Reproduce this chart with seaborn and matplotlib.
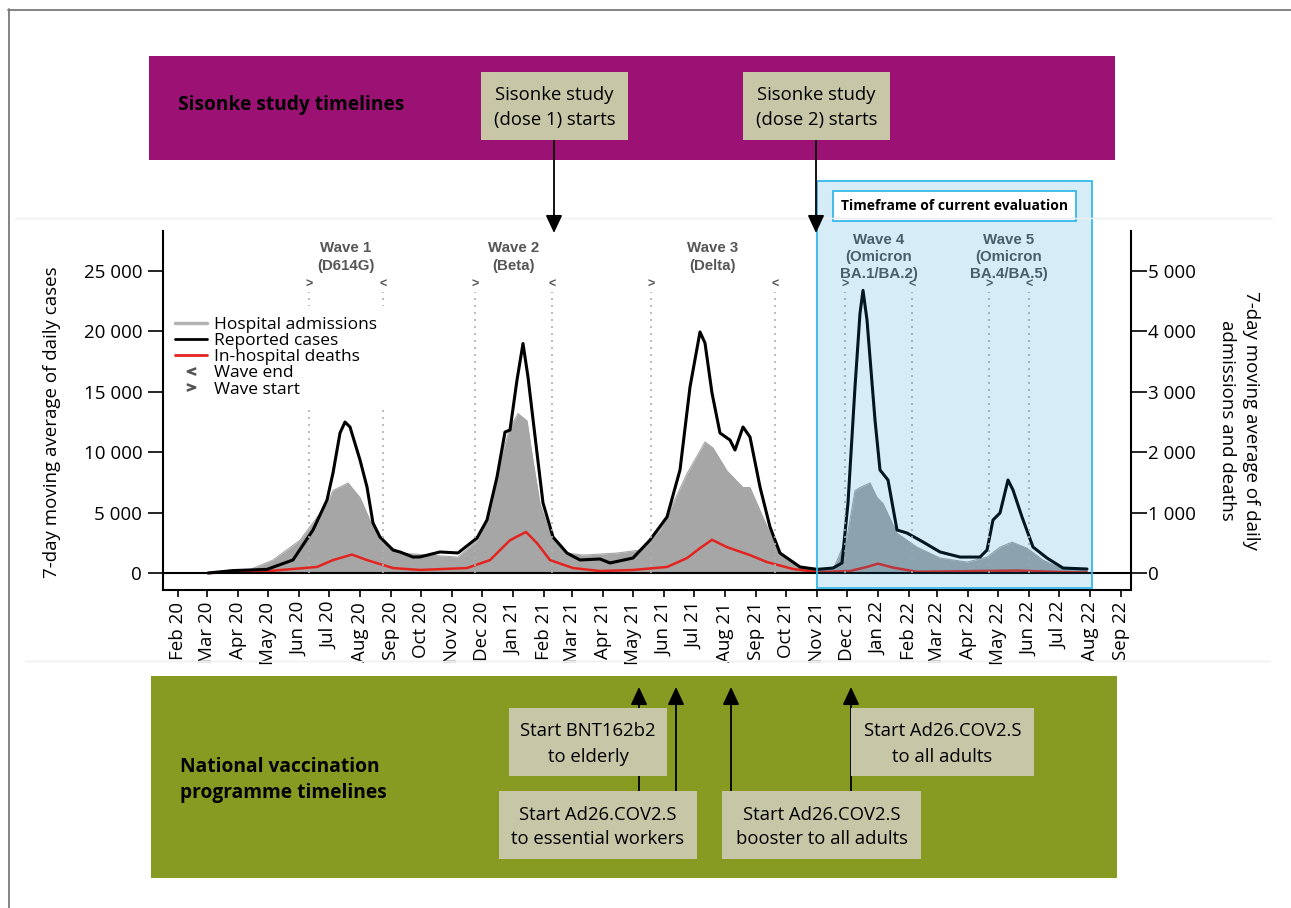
import matplotlib.pyplot as plt
import matplotlib.dates as mdates
import matplotlib.patches as mpatches
import matplotlib.ticker as mticker
import matplotlib.transforms as mtransforms
from matplotlib.lines import Line2D
import pandas as pd
import seaborn as sns

sns.set_theme(style='ticks')
plt.rcParams['font.family'] = ['Open Sans', 'DejaVu Sans']
plt.rcParams['font.size'] = 13.5
plt.rcParams['text.color'] = 'black'
plt.rcParams['axes.labelcolor'] = 'black'

# ---- data ----
case_dates = ['2020-03-02', '2020-03-27', '2020-04-30', '2020-05-26', '2020-06-15', '2020-06-29',
              '2020-07-05', '2020-07-12', '2020-07-17', '2020-07-22', '2020-08-01', '2020-08-08',
              '2020-08-14', '2020-08-21', '2020-09-03', '2020-09-10', '2020-09-23', '2020-09-30',
              '2020-10-20', '2020-11-07', '2020-11-26', '2020-12-06', '2020-12-16', '2020-12-24',
              '2020-12-29', '2021-01-05', '2021-01-11', '2021-01-16', '2021-01-25', '2021-01-31',
              '2021-02-10', '2021-02-24', '2021-03-09', '2021-03-29', '2021-04-08', '2021-05-01',
              '2021-05-18', '2021-06-04', '2021-06-17', '2021-06-27', '2021-07-07', '2021-07-12',
              '2021-07-19', '2021-07-27', '2021-08-06', '2021-08-11', '2021-08-19', '2021-08-26',
              '2021-09-05', '2021-09-15', '2021-09-25', '2021-10-15', '2021-11-01', '2021-11-17',
              '2021-11-26', '2021-12-02', '2021-12-09', '2021-12-14', '2021-12-17', '2021-12-21',
              '2021-12-25', '2021-12-29', '2022-01-03', '2022-01-11', '2022-01-20', '2022-01-30',
              '2022-02-15', '2022-03-04', '2022-03-24', '2022-04-13', '2022-04-20', '2022-04-26',
              '2022-05-03', '2022-05-11', '2022-05-16', '2022-05-25', '2022-06-05', '2022-06-19',
              '2022-07-05', '2022-07-29']
case_values = [0, 200, 300, 1080, 3560, 6040,
               8280, 11590, 12500, 12090, 9360, 7120,
               4140, 2980, 1900, 1740, 1320, 1330,
               1740, 1660, 2900, 4390, 7950, 11670,
               11840, 15980, 19000, 16230, 9940, 5800,
               2980, 1650, 1080, 1160, 830, 1240,
               2730, 4640, 8530, 15400, 19960, 19040,
               14900, 11590, 11010, 10180, 12090, 11260,
               7120, 3810, 1650, 500, 300, 410,
               830, 5800, 15400, 21500, 23400, 20950,
               16800, 12670, 8530, 7700, 3560, 3310,
               2570, 1740, 1320, 1320, 1900, 4390,
               4970, 7700, 6870, 4640, 2150, 1240,
               410, 330]

adm_dates = ['2020-03-03', '2020-04-12', '2020-05-06', '2020-06-02', '2020-06-22', '2020-07-02',
             '2020-07-05', '2020-07-20', '2020-08-01', '2020-08-11', '2020-08-21', '2020-09-10',
             '2020-11-07', '2020-11-26', '2020-12-09', '2020-12-19', '2020-12-29', '2021-01-06',
             '2021-01-15', '2021-01-21', '2021-01-28', '2021-02-07', '2021-02-24', '2021-03-12',
             '2021-04-15', '2021-05-08', '2021-05-28', '2021-06-10', '2021-06-24', '2021-07-07',
             '2021-07-12', '2021-07-20', '2021-08-03', '2021-08-19', '2021-08-26', '2021-09-05',
             '2021-09-15', '2021-09-28', '2021-10-15', '2021-11-17', '2021-12-01', '2021-12-09',
             '2021-12-14', '2021-12-24', '2021-12-31', '2022-01-06', '2022-01-20', '2022-02-09',
             '2022-03-04', '2022-03-31', '2022-04-20', '2022-05-03', '2022-05-15', '2022-05-30',
             '2022-06-15', '2022-07-02', '2022-07-29']
adm_values = [0, 50, 214, 543, 987, 1250,
              1365, 1490, 1250, 872, 543, 330,
              263, 543, 987, 1860, 2400, 2640,
              2520, 1860, 1150, 658, 330, 296,
              330, 380, 707, 1150, 1645, 2020,
              2170, 2070, 1690, 1415, 1415, 1036,
              658, 263, 100, 50, 592, 1365,
              1415, 1490, 1250, 1150, 658, 428,
              247, 181, 263, 428, 510, 411,
              214, 82, 50]

death_dates = ['2020-03-03', '2020-04-30', '2020-06-19', '2020-07-05', '2020-07-24', '2020-08-08',
               '2020-09-03', '2020-09-30', '2020-11-16', '2020-12-09', '2020-12-29', '2021-01-14',
               '2021-01-25', '2021-02-07', '2021-03-02', '2021-03-29', '2021-05-01', '2021-06-04',
               '2021-06-24', '2021-07-07', '2021-07-19', '2021-08-03', '2021-08-26', '2021-09-12',
               '2021-10-08', '2021-11-01', '2021-12-04', '2021-12-21', '2022-01-01', '2022-01-16',
               '2022-02-09', '2022-05-20', '2022-07-05', '2022-07-29']
death_values = [0, 30, 100, 214, 305, 214,
                82, 50, 82, 214, 543, 680,
                494, 214, 82, 33, 50, 100,
                247, 411, 550, 428, 296, 181,
                66, 16, 33, 100, 155, 90,
                20, 40, 15, 10]

wave_labels = ['Wave 1\n(D614G)', 'Wave 2\n(Beta)', 'Wave 3\n(Delta)',
               'Wave 4\n(Omicron\nBA.1/BA.2)', 'Wave 5\n(Omicron\nBA.4/BA.5)']
wave_starts = ['2020-06-11', '2020-11-24', '2021-05-19', '2021-11-29', '2022-04-22']
wave_ends = ['2020-08-24', '2021-02-09', '2021-09-20', '2022-02-04', '2022-06-01']

sisonke_labels = ['Sisonke study\n(dose 1) starts', 'Sisonke study\n(dose 2) starts']
sisonke_dates = ['2021-02-11', '2021-10-31']

vacc_labels = ['Start BNT162b2\nto elderly', 'Start Ad26.COV2.S\nto essential workers',
               'Start Ad26.COV2.S\nbooster to all adults', 'Start Ad26.COV2.S\nto all adults']
vacc_dates = ['2021-05-07', '2021-06-13', '2021-08-07', '2021-12-05']

timeframe = ['2021-11-01', '2022-08-03']

df_cases = pd.DataFrame({'date': pd.to_datetime(case_dates), 'cases': case_values})
df_adm = pd.DataFrame({'date': pd.to_datetime(adm_dates), 'admissions': adm_values})
df_deaths = pd.DataFrame({'date': pd.to_datetime(death_dates), 'deaths': death_values})

# ---- layout helpers (pixels of the 1291x908 canvas) ----
W, H = 1291, 908
def fx(px):
    return px / W
def fy(py):
    return 1 - py / H

fig = plt.figure(figsize=(W / 100, H / 100), dpi=100)
ax = fig.add_axes([fx(163), fy(590), fx(1131) - fx(163), fy(231) - fy(590)])
ax2 = ax.twinx()
ax.set_zorder(ax2.get_zorder() + 1)
ax.patch.set_visible(False)

# right axis: admissions + deaths
ax2.fill_between(df_adm['date'], df_adm['admissions'], 0, color='#a6a6a6', lw=0)
sns.lineplot(data=df_adm, x='date', y='admissions', ax=ax2, color='#a6a6a6', lw=0.8)
sns.lineplot(data=df_deaths, x='date', y='deaths', ax=ax2, color='#e3241e', lw=1.8)

# left axis: cases
ax.axhline(0, color='black', lw=1.5)
sns.lineplot(data=df_cases, x='date', y='cases', ax=ax, color='black', lw=2.2)

ymin, ymax = -1408, 28318
ax.set_ylim(ymin, ymax)
ax2.set_ylim(ymin / 5, ymax / 5)
ax.set_xlim(pd.Timestamp('2020-01-17'), pd.Timestamp('2022-09-11'))
ax.set(xlabel='', ylabel='')
ax2.set(xlabel='', ylabel='')

fmt = mticker.FuncFormatter(lambda v, p: f'{int(v):,}'.replace(',', ' '))
ax.set_yticks(range(0, 25001, 5000))
ax2.set_yticks(range(0, 5001, 1000))
ax.yaxis.set_major_formatter(fmt)
ax2.yaxis.set_major_formatter(fmt)
ax.xaxis.set_major_locator(mdates.MonthLocator())
ax.xaxis.set_major_formatter(mdates.DateFormatter('%b %y'))

ax.tick_params(axis='y', length=11, width=1.2, pad=4, labelsize=13.5, colors='black')
ax2.tick_params(axis='y', length=11.5, width=1.2, pad=0.5, labelsize=13.5, colors='black')
ax.tick_params(axis='x', length=5, width=1.2, pad=3.5, labelsize=13.5, labelrotation=90, colors='black')

for s in ['top', 'right']:
    ax.spines[s].set_visible(False)
for s in ['top', 'left', 'bottom']:
    ax2.spines[s].set_visible(False)
for a in [ax, ax2]:
    for s in a.spines.values():
        s.set_color('black')
        s.set_linewidth(1.5)

# wave markers
xfrac = ax.get_xaxis_transform()
for lab, st, en in zip(wave_labels, wave_starts, wave_ends):
    st, en = pd.Timestamp(st), pd.Timestamp(en)
    ax.vlines([st, en], 0, 23300, colors='#b0b0b0', linestyles=(0, (1.2, 3)), lw=1.2)
    ax.text(st, 0.8496, '>', transform=xfrac, ha='center', va='center', fontsize=9,
            color='#555555', family='Liberation Sans', fontweight='bold')
    ax.text(en, 0.8496, '<', transform=xfrac, ha='center', va='center', fontsize=9,
            color='#555555', family='Liberation Sans', fontweight='bold')
    ax.text(st + (en - st) / 2, 0.9276, lab, transform=xfrac, ha='center', va='center',
            fontsize=10.8, color='#555555', family='Liberation Sans', fontweight='bold',
            linespacing=1.3)

# legend
handles = [Line2D([], [], color='#b3b3b3', lw=2.5),
           Line2D([], [], color='black', lw=2),
           Line2D([], [], color='#e3241e', lw=2),
           Line2D([], [], ls='none', marker='$<$', color='#555555', markersize=6),
           Line2D([], [], ls='none', marker='$>$', color='#555555', markersize=6)]
names = ['Hospital admissions', 'Reported cases', 'In-hospital deaths', 'Wave end', 'Wave start']
leg = ax.legend(handles, names, loc='upper left', bbox_to_anchor=(0.0017, 0.790), borderaxespad=0,
                fontsize=12.5, labelspacing=0.0, handlelength=1.85, handletextpad=0.4,
                borderpad=0.6, frameon=True, fancybox=False, framealpha=1)
leg.get_frame().set_facecolor('white')
leg.get_frame().set_edgecolor('none')

# timeframe of current evaluation
blend = mtransforms.blended_transform_factory(ax.transData, fig.transFigure)
t0 = mdates.date2num(pd.Timestamp(timeframe[0]))
t1 = mdates.date2num(pd.Timestamp(timeframe[1]))
ax.add_artist(mpatches.Rectangle((t0, fy(588)), t1 - t0, fy(181) - fy(588), transform=blend,
                                 fc='#0095d9', alpha=0.16, ec='none', clip_on=False, zorder=20))
ax.add_artist(mpatches.Rectangle((t0, fy(588)), t1 - t0, fy(181) - fy(588), transform=blend,
                                 fc='none', ec='#35b8ea', lw=1.3, clip_on=False, zorder=21))
ax.text((t0 + t1) / 2, fy(206), 'Timeframe of current evaluation', transform=blend,
        ha='center', va='center', fontsize=10, fontweight='bold', zorder=22,
        bbox=dict(boxstyle='square,pad=0.6', fc='white', ec='#35b8ea', lw=1.3))

# outer decoration
fig.add_artist(Line2D([fx(8.5), fx(8.5)], [fy(9), 0], transform=fig.transFigure, color='#7a7a7a', lw=1.3))
fig.add_artist(Line2D([fx(8), 1], [fy(9.5), fy(9.5)], transform=fig.transFigure, color='#7a7a7a', lw=1.3))
fig.add_artist(Line2D([fx(15), fx(1272)], [fy(218), fy(218)], transform=fig.transFigure, color='#efefef', lw=1))
fig.add_artist(Line2D([fx(25), fx(1270)], [fy(661), fy(661)], transform=fig.transFigure, color='#efefef', lw=1))

box_color = '#c7c7a7'
def band(x0, y0, x1, y1, color):
    fig.add_artist(mpatches.Rectangle((fx(x0), fy(y1)), fx(x1) - fx(x0), fy(y0) - fy(y1),
                                      transform=fig.transFigure, fc=color, ec='none', zorder=1))

def box(x0, y0, x1, y1, text):
    fig.add_artist(mpatches.Rectangle((fx(x0), fy(y1)), fx(x1) - fx(x0), fy(y0) - fy(y1),
                                      transform=fig.transFigure, fc=box_color, ec='none', zorder=3))
    fig.text(fx((x0 + x1) / 2), fy((y0 + y1) / 2 + 2), text, ha='center', va='center',
             fontsize=13.3, linespacing=1.5, zorder=4)

def arrow(date, ya, yb):
    xd = mdates.date2num(pd.Timestamp(date))
    fig.add_artist(mpatches.FancyArrowPatch((xd, fy(ya)), (xd, fy(yb)), transform=blend,
                                            arrowstyle='-|>,head_length=0.9,head_width=0.42',
                                            mutation_scale=12, color='black', lw=1.3,
                                            shrinkA=0, shrinkB=0, zorder=2))

# Sisonke band
band(149, 56, 1115, 160, '#9b1174')
fig.text(fx(178), fy(105), 'Sisonke study timelines', ha='left', va='center',
         fontsize=13.8, fontweight='bold', zorder=4)
for lab, d, (x0, x1) in zip(sisonke_labels, sisonke_dates, [(481, 628), (743, 890)]):
    box(x0, 72, x1, 140, lab)
    arrow(d, 140, 233)

# national vaccination band
band(151, 676, 1117, 878, '#879a22')
fig.text(fx(180), fy(780), 'National vaccination\nprogramme timelines', ha='left', va='center',
         fontsize=13.8, fontweight='bold', linespacing=1.45, zorder=4)
vacc_boxes = [(509, 708, 667, 776), (499, 791, 697, 859), (722, 791, 921, 859), (851, 708, 1034, 776)]
for lab, (x0, y0, x1, y1) in zip(vacc_labels, vacc_boxes):
    box(x0, y0, x1, y1, lab)
for d in vacc_dates:
    arrow(d, 791, 687)

# axis titles
fig.text(fx(52), fy(422), '7-day moving average of daily cases', rotation=90,
         ha='center', va='center', fontsize=13.5)
fig.text(fx(1239), fy(420), '7-day moving average of daily\nadmissions and deaths', rotation=270,
         ha='center', va='center', ma='center', fontsize=13.5, linespacing=1.5)

fig.savefig('out.png', dpi=100)
